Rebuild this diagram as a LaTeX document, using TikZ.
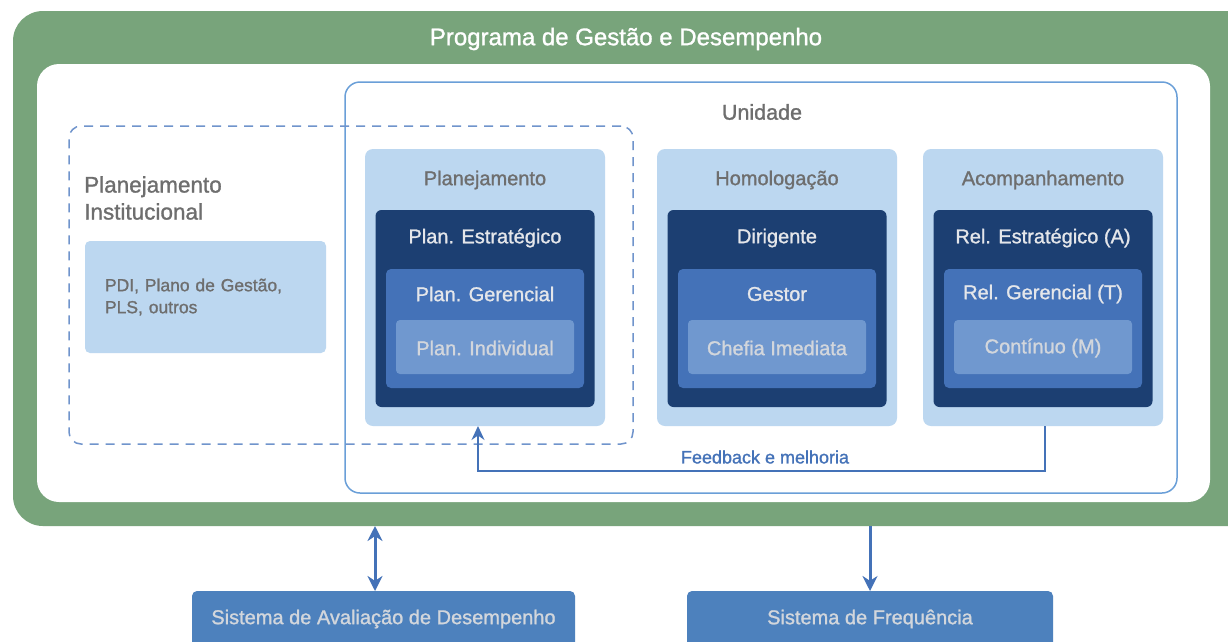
\documentclass[tikz,border=0pt]{standalone}
\usepackage{fontspec}
\setmainfont{Liberation Sans}[FakeBold=1.2]
\usetikzlibrary{arrows.meta,positioning}
\definecolor{pgdgreen}{HTML}{78A47B}
\definecolor{pgdlight}{HTML}{BCD7F0}
\definecolor{pgddark}{HTML}{1C3F72}
\definecolor{pgdmid}{HTML}{4472B8}
\definecolor{pgdinner}{HTML}{7098CF}
\definecolor{pgdsys}{HTML}{4D81BD}
\definecolor{pgdline}{HTML}{6A9FD8}
\definecolor{pgddash}{HTML}{7094CC}
\definecolor{pgdgray}{HTML}{6E6E6E}
\definecolor{pgdpale}{HTML}{E4E6EA}
\definecolor{pgdpaler}{HTML}{D2D6DC}

\begin{document}
\begin{tikzpicture}[
    x=1pt, y=-1pt,
    box/.style={rectangle, inner sep=0pt, outer sep=0pt},
    colbox/.style={box, fill=pgdlight, rounded corners=8pt, minimum width=240pt, minimum height=277pt},
    darkbox/.style={box, fill=pgddark, rounded corners=6pt, minimum width=219pt, minimum height=197pt},
    midbox/.style={box, fill=pgdmid, rounded corners=5pt, minimum width=198pt, minimum height=119pt},
    innerbox/.style={box, fill=pgdinner, rounded corners=4pt, minimum width=178pt, minimum height=54pt},
    coltitle/.style={font=\fontsize{20}{24}\selectfont, text=pgdgray},
    boxtext/.style={font=\fontsize{20}{24}\selectfont, text=pgdpale},
    sysbox/.style={box, fill=pgdsys, rounded corners=5pt, minimum height=56pt,
                   font=\fontsize{20}{24}\selectfont, text=pgdpaler},
    fbarrow/.style={draw=pgdmid, line width=2pt, -{Stealth[length=14pt,width=13pt]}},
    sysarrow/.style={draw=pgdmid, line width=3pt}
]
\clip (0,0) rectangle (1228,641);
\fill[white] (0,0) rectangle (1228,641);

% outer frame
\node[box, fill=pgdgreen, rounded corners=30pt, minimum width=1247pt, minimum height=515pt] (prog) at (636.5,268.5) {};
\node[font=\fontsize{24}{28}\selectfont, text=white] (progt) at (626,39) {Programa de Gestão e Desempenho};
\node[box, fill=white, rounded corners=22pt, minimum width=1173pt, minimum height=438pt] (area) at (623.5,283) {};

% unidade
\node[box, draw=pgdline, line width=1.5pt, rounded corners=15pt, minimum width=832pt, minimum height=411pt] (unid) at (761,287.5) {};
\node[font=\fontsize{21.5}{24}\selectfont, text=pgdgray] (unidt) at (762,112) {Unidade};

% planejamento institucional
\node[box, draw=pgddash, line width=1.5pt, dash pattern=on 9pt off 7pt, rounded corners=12pt,
      minimum width=564pt, minimum height=318pt] (inst) at (351,285) {};
\node[anchor=west, align=left, inner sep=0pt, font=\fontsize{22.5}{27}\selectfont, text=pgdgray] (instt) at (84,198) {Planejamento\\Institucional};
\node[box, fill=pgdlight, rounded corners=5pt, minimum width=241pt, minimum height=112pt,
      text width=201pt, inner xsep=20pt, align=left, font=\fontsize{17.5}{22}\selectfont, text=pgdgray] (pdi) at (205.5,297) {PDI, Plano de Gestão,\\PLS, outros};

% columns
\foreach \id/\cx/\head/\ta/\tb/\tc in {
    plan/485/Planejamento/Plan. Estratégico/Plan. Gerencial/Plan. Individual,
    homol/777/Homologação/Dirigente/Gestor/Chefia Imediata,
    acomp/1043/Acompanhamento/Rel. Estratégico (A)/Rel. Gerencial (T)/Contínuo (M)}{
  \node[colbox] (\id) at (\cx,287.5) {};
  \node[coltitle] (\id-t) at (\cx,180) {\head};
  \node[darkbox] (\id-d) at (\cx,308.5) {};
  \node[boxtext] (\id-dt) at (\cx,238) {\ta};
  \node[midbox] (\id-m) at (\cx,328.5) {};
  \node[boxtext] (\id-mt) at (\cx,294) {\tb};
  \node[innerbox] (\id-i) at (\cx,347) {};
  \node[boxtext, text=pgdpaler] (\id-it) at (\cx,348) {\tc};
}

% feedback
\coordinate (fbr) at (1045,471);
\coordinate (fbl) at (478,471);
\draw[fbarrow] (acomp.south -| fbr) -- (fbr) -- (fbl) -- (plan.south -| fbl);
\node[font=\fontsize{18}{22}\selectfont, text=pgdmid] (fbt) at (765,457) {Feedback e melhoria};

% sistemas
\node[sysbox, minimum width=383pt] (aval) at (383.5,619) {Sistema de Avaliação de Desempenho};
\node[sysbox, minimum width=366pt] (freq) at (870,619) {Sistema de Frequência};
\draw[sysarrow, {Stealth[length=15pt,width=15pt]}-{Stealth[length=15pt,width=15pt]}] (prog.south -| 375,0) -- (aval.north -| 375,0);
\draw[sysarrow, -{Stealth[length=15pt,width=15pt]}] (prog.south -| freq.north) -- (freq.north);
\end{tikzpicture}
\end{document}
